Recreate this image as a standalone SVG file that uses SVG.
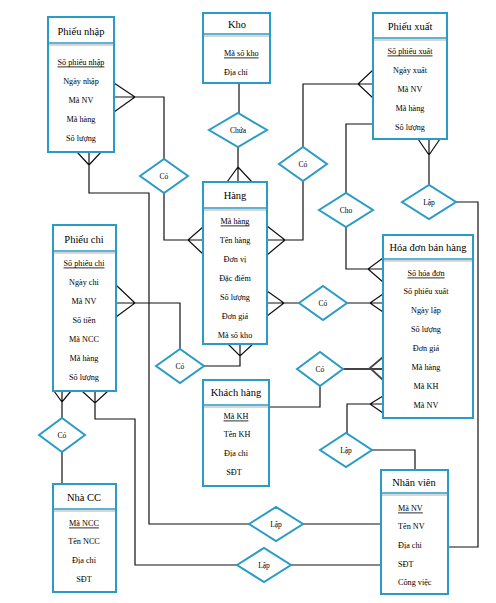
<svg xmlns="http://www.w3.org/2000/svg" width="496" height="603" viewBox="0 0 496 603" font-family="'Liberation Serif', 'Times New Roman', 'DejaVu Serif', serif">
<style>
.box{fill:#fff;stroke:#2a9bc4;stroke-width:2}
.sep{stroke:#2a9bc4;stroke-width:1.6}
.sh{stroke:#c8c8c8;stroke-width:1.4}
.dia{fill:#fff;stroke:#2a9bc4;stroke-width:2}
text{font-family:'Liberation Serif','Times New Roman','DejaVu Serif',serif;fill:#000;dominant-baseline:central}
.t{font-size:10.5px;text-anchor:middle}
.a{font-size:8.2px;text-anchor:middle}
.al{font-size:8.2px}
.r{font-size:7.5px;text-anchor:middle}
.k{text-decoration:underline}
.c{fill:none;stroke:#111;stroke-width:1.2}
</style>
<rect width="496" height="603" fill="#fff"/>
<g id="connectors">
<path class="c" d="M239,83 V113"/>
<path class="c" d="M238,147 V182 M227,182 L238,167 L252,182"/>
<path class="c" d="M114,83 L135,97 L114,112 M114,97 H164 V159"/>
<path class="c" d="M164,193 V240 H203 M203,227 L188,240 L203,254"/>
<path class="c" d="M77,152 L89,165 L101,152 M89,152 V193 H149 V524 H249"/>
<path class="c" d="M303,524 H381"/>
<path class="c" d="M373,70 L358,84 L373,98 M373,84 H303 V147"/>
<path class="c" d="M303,181 V240 H267 M267,226 L285,240 L267,255"/>
<path class="c" d="M373,124 H346 V193"/>
<path class="c" d="M346,227 V269 H383 M383,258 L368,269 L383,282"/>
<path class="c" d="M418,139 L429,155 L440,139 M429,139 V185"/>
<path class="c" d="M456,202 H478 V547 H448"/>
<path class="c" d="M267,291 L284,303 L267,316 M267,303 H299"/>
<path class="c" d="M347,303 H383 M383,294 L370,303 L383,312"/>
<path class="c" d="M116,285 L135,303 L116,317 M116,303 H180 V349"/>
<path class="c" d="M204,366 H240 V344 M228,344 L240,356 L253,344"/>
<path class="c" d="M269,407 H320 V386"/>
<path class="c" d="M343,369 H383 M383,357 L370,368 L383,380" style="stroke:#444;stroke-width:1.8"/>
<path class="c" d="M383,404 H347 V433 M383,396 L370,404 L383,413"/>
<path class="c" d="M372,450 H415 V470"/>
<path class="c" d="M54,391 L62,402 L71,391 M62,391 V418"/>
<path class="c" d="M62,452 V484"/>
<path class="c" d="M82,391 L95,403 L108,391 M95,391 V419 H135 V565 H237"/>
<path class="c" d="M291,565 H381"/>
</g>
<g id="rel-chua"><polygon class="dia" points="209,130 238,113 267,130 238,147"/><text class="r" x="238" y="130">Chứa</text></g>
<g id="rel-co1"><polygon class="dia" points="140,176 164,159 188,176 164,193"/><text class="r" x="164" y="176">Có</text></g>
<g id="rel-co2"><polygon class="dia" points="279,164 303,147 327,164 303,181"/><text class="r" x="303" y="164">Có</text></g>
<g id="rel-cho"><polygon class="dia" points="319,210 346,193 373,210 346,227"/><text class="r" x="346" y="210">Cho</text></g>
<g id="rel-lap4"><polygon class="dia" points="402,202 429,185 456,202 429,219"/><text class="r" x="429" y="202">Lập</text></g>
<g id="rel-co3"><polygon class="dia" points="299,303 323,286 347,303 323,320"/><text class="r" x="323" y="303">Có</text></g>
<g id="rel-co4"><polygon class="dia" points="156,366 180,349 204,366 180,383"/><text class="r" x="180" y="366">Có</text></g>
<g id="rel-co5"><polygon class="dia" points="297,369 320,352 343,369 320,386"/><text class="r" x="320" y="369">Có</text></g>
<g id="rel-lap1"><polygon class="dia" points="320,450 346,433 372,450 346,467"/><text class="r" x="346" y="450">Lập</text></g>
<g id="rel-lap2"><polygon class="dia" points="249,524 276,507 303,524 276,541"/><text class="r" x="276" y="524">Lập</text></g>
<g id="rel-lap3"><polygon class="dia" points="237,565 264,548 291,565 264,582"/><text class="r" x="264" y="565">Lập</text></g>
<g id="rel-co6"><polygon class="dia" points="39,435 62,418 85,435 62,452"/><text class="r" x="62" y="435">Có</text></g>
<g id="phieu-nhap">
<rect class="box" x="48" y="17" width="66" height="135"/>
<line class="sep" x1="48" y1="43" x2="114" y2="43"/><line class="sh" x1="49" y1="45" x2="113" y2="45"/>
<text class="t" x="81" y="31">Phiếu nhập</text>
<text class="a k" x="81" y="62">Số phiếu nhập</text>
<text class="a" x="81" y="81">Ngày nhập</text>
<text class="a" x="81" y="100">Mã NV</text>
<text class="a" x="81" y="119">Mã hàng</text>
<text class="a" x="81" y="138">Số lượng</text>
</g>
<g id="kho">
<rect class="box" x="203" y="13" width="67" height="70"/>
<line class="sep" x1="203" y1="34" x2="270" y2="34"/><line class="sh" x1="204" y1="36" x2="269" y2="36"/>
<text class="t" x="237" y="24">Kho</text>
<text class="al k" x="224" y="53">Mã số kho</text>
<text class="al" x="224" y="72">Địa chỉ</text>
</g>
<g id="phieu-xuat">
<rect class="box" x="373" y="13" width="74" height="126"/>
<line class="sep" x1="373" y1="38" x2="447" y2="38"/><line class="sh" x1="374" y1="40" x2="446" y2="40"/>
<text class="t" x="410" y="26">Phiếu xuất</text>
<text class="a k" x="410" y="51">Số phiếu xuất</text>
<text class="a" x="410" y="70">Ngày xuất</text>
<text class="a" x="410" y="89">Mã NV</text>
<text class="a" x="410" y="108">Mã hàng</text>
<text class="a" x="410" y="127">Số lượng</text>
</g>
<g id="hang">
<rect class="box" x="203" y="182" width="64" height="162"/>
<line class="sep" x1="203" y1="208" x2="267" y2="208"/><line class="sh" x1="204" y1="210" x2="266" y2="210"/>
<text class="t" x="235" y="195">Hàng</text>
<text class="a k" x="235" y="221">Mã hàng</text>
<text class="a" x="235" y="240">Tên hàng</text>
<text class="a" x="235" y="259">Đơn vị</text>
<text class="a" x="235" y="278">Đặc điểm</text>
<text class="a" x="235" y="297">Số lượng</text>
<text class="a" x="235" y="316">Đơn giá</text>
<text class="a" x="235" y="335">Mã số kho</text>
</g>
<g id="phieu-chi">
<rect class="box" x="53" y="225" width="63" height="166"/>
<line class="sep" x1="53" y1="251" x2="116" y2="251"/><line class="sh" x1="54" y1="253" x2="115" y2="253"/>
<text class="t" x="84" y="239">Phiếu chi</text>
<text class="a k" x="84" y="263">Số phiếu chi</text>
<text class="a" x="84" y="282">Ngày chi</text>
<text class="a" x="84" y="301">Mã  NV</text>
<text class="a" x="84" y="320">Số tiền</text>
<text class="a" x="84" y="339">Mã NCC</text>
<text class="a" x="84" y="358">Mã hàng</text>
<text class="a" x="84" y="377">Số lượng</text>
</g>
<g id="hoa-don">
<rect class="box" x="383" y="235" width="90" height="183"/>
<line class="sep" x1="383" y1="259" x2="473" y2="259"/><line class="sh" x1="384" y1="261" x2="472" y2="261"/>
<text class="t" x="428" y="247">Hóa đơn bán hàng</text>
<text class="a k" x="426" y="273">Số hóa đơn</text>
<text class="a" x="426" y="291">Số phiếu xuất</text>
<text class="a" x="426" y="310">Ngày lập</text>
<text class="a" x="426" y="329">Số lượng</text>
<text class="a" x="426" y="348">Đơn giá</text>
<text class="a" x="426" y="367">Mã hàng</text>
<text class="a" x="426" y="386">Mã KH</text>
<text class="a" x="426" y="405">Mã NV</text>
</g>
<g id="khach-hang">
<rect class="box" x="203" y="380" width="66" height="106"/>
<line class="sep" x1="203" y1="405" x2="269" y2="405"/><line class="sh" x1="204" y1="407" x2="268" y2="407"/>
<text class="t" x="236" y="392">Khách hàng</text>
<text class="a k" x="236" y="416">Mã KH</text>
<text class="a" x="237" y="434">Tên KH</text>
<text class="a" x="236" y="453">Địa chỉ</text>
<text class="a" x="234" y="472">SĐT</text>
</g>
<g id="nha-cc">
<rect class="box" x="53" y="484" width="63" height="108"/>
<line class="sep" x1="53" y1="509" x2="116" y2="509"/><line class="sh" x1="54" y1="511" x2="115" y2="511"/>
<text class="t" x="84" y="497">Nhà CC</text>
<text class="a k" x="84" y="523">Mã NCC</text>
<text class="a" x="84" y="541">Tên NCC</text>
<text class="a" x="84" y="560">Địa chỉ</text>
<text class="a" x="84" y="579">SĐT</text>
</g>
<g id="nhan-vien">
<rect class="box" x="381" y="470" width="67" height="124"/>
<line class="sep" x1="381" y1="493" x2="448" y2="493"/><line class="sh" x1="382" y1="495" x2="447" y2="495"/>
<text class="t" x="414" y="482">Nhân viên</text>
<text class="al k" x="398" y="508">Mã NV</text>
<text class="al" x="398" y="526">Tên NV</text>
<text class="al" x="398" y="545">Địa chỉ</text>
<text class="al" x="398" y="564">SĐT</text>
<text class="al" x="398" y="582">Công việc</text>
</g>
</svg>
